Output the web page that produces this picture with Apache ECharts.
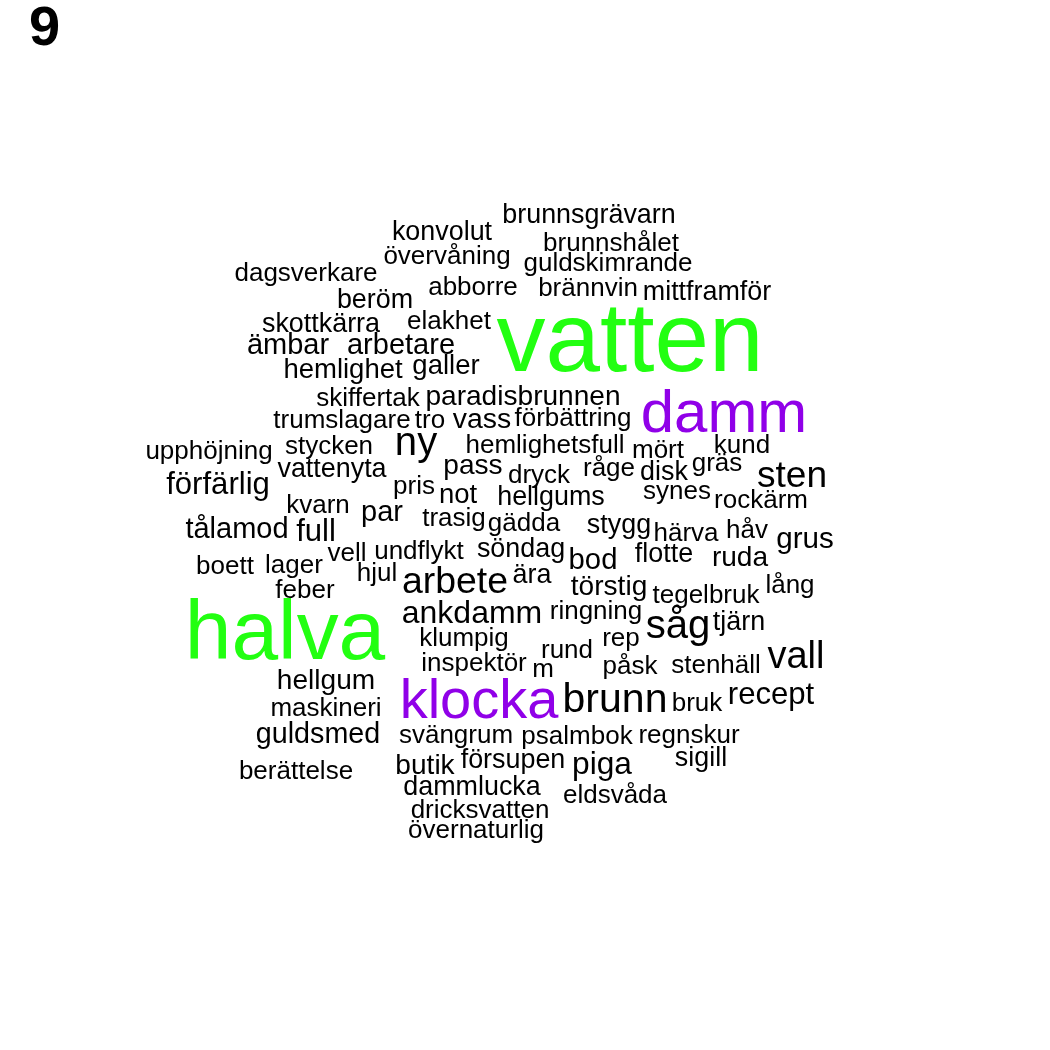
<!DOCTYPE html>
<html>
<head>
<meta charset="utf-8">
<script src="https://cdn.jsdelivr.net/npm/echarts@6/dist/echarts.min.js"></script>
<style>html,body{margin:0;padding:0;background:#fff}#c{width:1050px;height:1050px}</style>
</head>
<body>
<div id="c"></div>
<script>
// Word cloud data
const words = ["brunnsgrävarn","konvolut","brunnshålet","övervåning","guldskimrande","dagsverkare","abborre","brännvin","mittframför","beröm",
"skottkärra","elakhet","ämbar","arbetare","hemlighet","galler","vatten","skiffertak","paradisbrunnen","trumslagare",
"tro","vass","förbättring","damm","upphöjning","stycken","ny","hemlighetsfull","mört","kund",
"vattenyta","pass","dryck","råge","disk","gräs","sten","förfärlig","pris","not",
"hellgums","synes","rockärm","kvarn","par","trasig","gädda","stygg","härva","håv",
"grus","tålamod","full","vell","undflykt","söndag","bod","flotte","ruda","boett",
"lager","hjul","arbete","ära","törstig","tegelbruk","lång","feber","halva","ankdamm",
"ringning","såg","tjärn","klumpig","rep","rund","inspektör","m","påsk","stenhäll",
"vall","hellgum","klocka","brunn","bruk","recept","maskineri","guldsmed","svängrum","psalmbok",
"regnskur","sigill","berättelse","butik","försupen","piga","dammlucka","eldsvåda","dricksvatten","övernaturlig"];
// relative frequency (weight) of each word
const freqs = [1.3,1.3,1,1,1,1,1,1,1.3,1.3,
1.3,1,2,2,1.5,1.5,25,1,1.7,1,
1,1.8,1,12.3,1,1,5.7,1,1,1,
1.3,1.7,1,1,1.3,1,4.7,2.7,1,1.5,
1.3,1,1,1,2,1,1,1.3,1,1,
2.2,2,2.7,1,1,1.3,2.1,1.3,1.7,1,
1,1,4.8,1.3,1.7,1,1,1,20.3,3,
1,5.7,1.3,1,1,1,1,1,1,1,
5,1.7,11,6,1,2.7,1,1.9,1,1,
1,1.3,1,1.7,1.3,2.9,1.3,1,1,1];
// layout coordinates of the cloud (horizontal / vertical)
const xs = [589,442,611,447,608,306,473,588,707,375,
321,449,288,401,343,446,630,368,523,342,
430,482,573,724,209,329,416,545,658,742,
332,473,539,609,664,717,792,218,414,458,
551,677,761,318,382,454,524,619,686,747,
805,237,316,347,419,521,593,664,740,225,
294,377,455,532,609,706,790,305,285,472,
596,678,739,464,621,567,474,543,630,716,
796,326,479,615,697,771,326,318,456,577,
689,701,296,425,513,602,472,615,480,476];
const ys = [216,233,244,257,264,274,288,289,293,301,
325,322,346,346,370,366,344,399,397,421,
421,420,419,415,452,447,444,446,451,446,
470,466,476,469,473,464,477,485,487,495,
498,492,501,506,513,519,524,526,534,531,
540,530,532,554,552,550,561,555,558,567,
566,574,583,576,587,596,586,591,636,614,
612,627,623,639,639,651,664,670,667,666,
658,681,703,701,704,695,709,735,736,737,
736,759,772,766,761,765,788,796,811,831];
// colour group by frequency rank
const groups = words.map((w, i) => freqs[i] >= 15 ? 2 : (freqs[i] >= 10 ? 1 : 0));
const palette = ["#000000", "#9000e8", "#22ff11"];
const titleText = "9";

const MIN_SIZE = 26, STEP = 3;
const fontOf = f => MIN_SIZE + STEP * (f - 1);

const data = words.map((w, i) => ({
  value: [xs[i], ys[i]],
  name: w,
  label: { fontSize: fontOf(freqs[i]), color: palette[groups[i]] }
}));

const chart = echarts.init(document.getElementById('c'), null, {renderer: 'canvas'});
chart.setOption({
  backgroundColor: '#ffffff',
  animation: false,
  title: {
    text: titleText, left: 29, top: 2, padding: 0,
    textStyle: { fontFamily: 'Liberation Sans', fontWeight: 'bold', fontSize: 56, color: '#000' }
  },
  grid: { left: 0, right: 0, top: 0, bottom: 0 },
  xAxis: { type: 'value', min: 0, max: 1050, show: false },
  yAxis: { type: 'value', min: 0, max: 1050, inverse: true, show: false },
  series: [{
    type: 'scatter',
    symbolSize: 0,
    silent: true,
    itemStyle: { opacity: 1 },
    data: data,
    label: {
      show: true,
      position: 'inside',
      opacity: 1,
      formatter: p => p.name,
      fontFamily: 'Liberation Sans',
      align: 'center',
      verticalAlign: 'middle',
      textBorderWidth: 0
    },
    labelLayout: { hideOverlap: false }
  }]
});
</script>
</body>
</html>
